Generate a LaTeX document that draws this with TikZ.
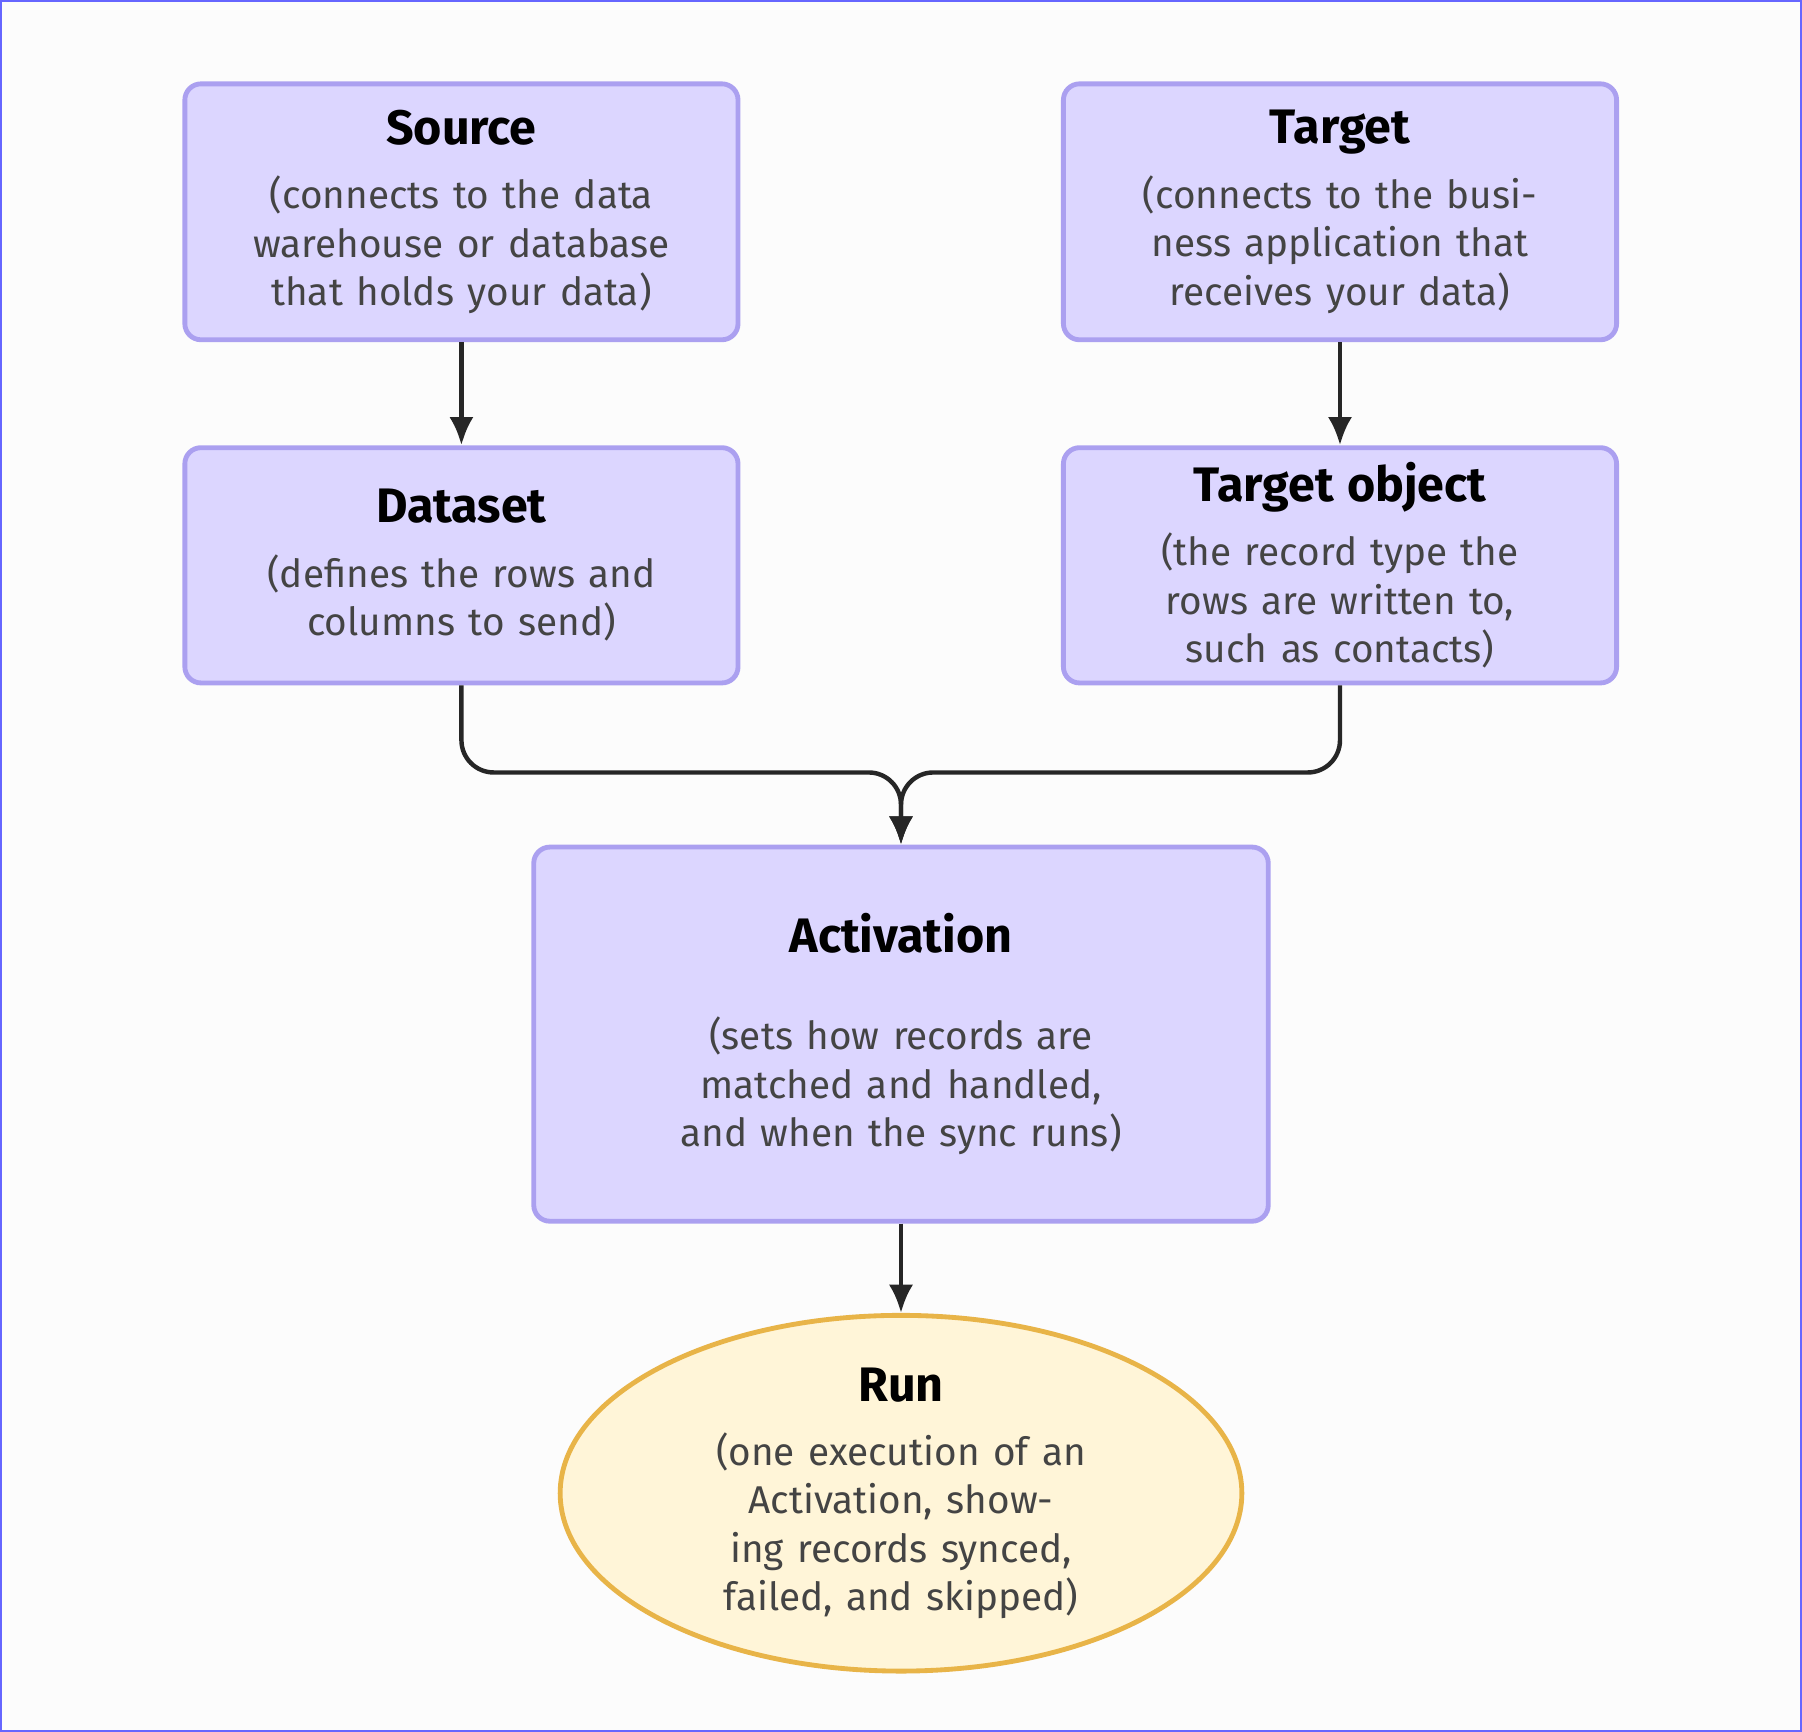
\documentclass[tikz,border=0pt]{standalone}
\usepackage{fontspec}
\setmainfont{Fira Sans}
\usetikzlibrary{positioning,shapes.geometric,arrows.meta}
\definecolor{boxfill}{HTML}{DCD6FF}
\definecolor{boxline}{HTML}{ABA0F0}
\definecolor{runfill}{HTML}{FFF5D8}
\definecolor{runline}{HTML}{E8B448}
\definecolor{bodytext}{HTML}{444444}
\tikzset{
  stage/.style={draw=boxline, fill=boxfill, line width=1.2pt, rounded corners=4pt,
    minimum width=4.82cm, align=center, text width=4.4cm},
  runstage/.style={draw=runline, fill=runfill, ellipse, line width=1.2pt, inner sep=0pt,
    minimum width=5.52cm, minimum height=2.74cm, align=center, text width=4.2cm},
  flow/.style={-{Latex[length=7pt,width=6pt]}, line width=1.1pt, color=black!85, rounded corners=8pt}
}
\newcommand{\ttl}[2][4pt]{{\fontsize{12}{14}\selectfont\bfseries #2}\\[#1]}
\newcommand{\bdy}[1]{{\fontsize{9.6}{12}\selectfont\color{bodytext}#1}}
\begin{document}
\begin{tikzpicture}
%background and frame
\fill[black!1] (0,0) rectangle (15.68,-15.07);
\draw[blue!60, line width=0.6pt] (0,0) rectangle (15.68,-15.07);
\useasboundingbox (0,0) rectangle (15.68,-15.07);

%boxes
\node[stage, minimum height=2.23cm] (source) at (4.01,-1.835) {\ttl{Source}\bdy{(connects to the data warehouse or database that holds your data)}};
\node[stage, minimum height=2.23cm] (target) at (11.665,-1.835) {\ttl{Target}\bdy{(connects to the business application that receives your data)}};
\node[stage, minimum height=2.05cm] (dataset) at (4.01,-4.915) {\ttl{Dataset}\bdy{(defines the rows and\\columns to send)}};
\node[stage, minimum height=2.05cm] (tobject) at (11.665,-4.915) {\ttl{Target object}\bdy{(the record type the rows are written to, such as contacts)}};
\node[stage, minimum width=6.4cm, minimum height=3.26cm, text width=5cm] (activation) at (7.84,-9.0) {\ttl[12pt]{Activation}\bdy{(sets how records are matched and handled, and when the sync runs)}};
\node[runstage] (run) at (7.84,-13.0) {\ttl{Run}\bdy{(one execution of an Activation, showing records synced, failed, and skipped)}};

%connectors
\draw[flow] (source) -- (dataset);
\draw[flow] (target) -- (tobject);
\draw[flow] (dataset.south) |- (7.84,-6.72) -- (activation.north);
\draw[flow] (tobject.south) |- (7.84,-6.72) -- (activation.north);
\draw[flow] (activation) -- (run);
\end{tikzpicture}
\end{document}
